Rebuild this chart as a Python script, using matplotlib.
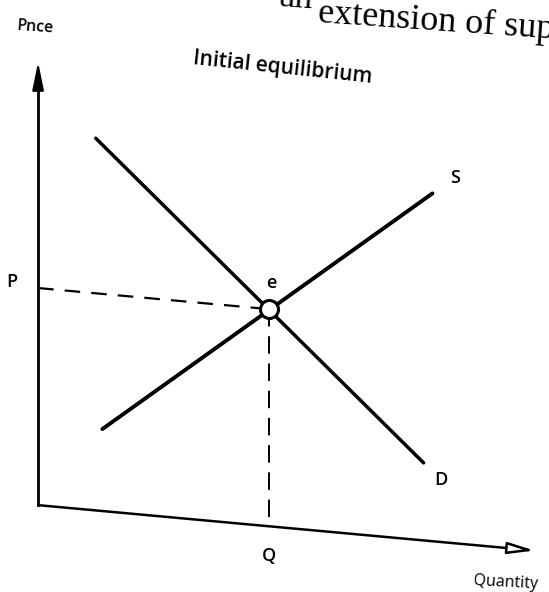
import numpy as np
import matplotlib.pyplot as plt
from matplotlib.transforms import Affine2D

# curve end points and equilibrium (quantity, price units)
demand_q = [13.0, 87.0]
demand_p = [84.0, 17.5]
supply_q = [14.5, 89.0]
supply_p = [18.5, 78.5]
eq_q = 52.0
eq_p = 49.0
q_max = 111.0
p_max = 100.0

plt.rcParams['font.family'] = ['Open Sans', 'DejaVu Sans']

fig = plt.figure(figsize=(5.49, 5.92), dpi=100)
ax = fig.add_axes([0, 0, 1, 1])
ax.set_xlim(-8.6, 115.3)
ax.set_ylim(-19.6, 114.0)
ax.axis('off')

# the page was scanned a little crooked: shear the drawing so the x axis tilts down
ox, oy = ax.transData.transform((0, 0))
shear = Affine2D().translate(-ox, -oy).skew(0, np.arctan(-0.0915)).translate(ox, oy)
tr = ax.transData + shear

# axes
ax.plot([0, 0], [0, p_max - 4], color='k', lw=2.0, transform=tr, clip_on=False)
ax.annotate('', xy=(0, p_max), xytext=(0, p_max - 6), xycoords=tr, textcoords=tr,
            arrowprops=dict(arrowstyle='-|>,head_length=1.7,head_width=0.35',
                            color='k', lw=1.5, shrinkA=0, shrinkB=0))
ax.annotate('', xy=(q_max + 1, 0), xytext=(0, 0), xycoords=tr, textcoords=tr,
            arrowprops=dict(arrowstyle='-|>,head_length=1.6,head_width=0.35',
                            fc='white', ec='k', lw=1.8, shrinkA=0, shrinkB=0))

# demand and supply
ax.plot(demand_q, demand_p, color='k', lw=2.5, transform=tr, solid_capstyle='round')
ax.plot(supply_q, supply_p, color='k', lw=2.8, transform=tr, solid_capstyle='round')

# guide lines to P and Q
ax.plot([0, eq_q], [eq_p, eq_p], color='k', lw=1.6, dashes=(7, 5), transform=tr)
ax.plot([eq_q, eq_q], [eq_p, 0], color='k', lw=1.4, dashes=(9, 5), transform=tr)

# equilibrium point
ax.plot(eq_q, eq_p, 'o', ms=13, mfc='white', mec='k', mew=2.2, transform=tr, zorder=5)

lab = dict(fontsize=13, fontweight='semibold', color='k', ha='center', va='center',
           transform=tr)
ax.text(-5.9, eq_p + 0.8, 'P', **lab)
ax.text(eq_q + 0.6, eq_p + 6, 'e', **lab)
ax.text(eq_q, -6.7, 'Q', **lab)
ax.text(demand_q[1] + 4, demand_p[1] - 3.4, 'D', **lab)
ax.text(supply_q[1] + 5.2, supply_p[1] + 4, 'S', **lab)
ax.text(105.5, -7.9, 'Quantity', fontsize=11.5, ha='center', va='center', transform=tr,
        rotation=-3)

fig.text(0.064, 0.954, 'Pnce', fontsize=11.5, fontweight='semibold', ha='center',
         va='center', rotation=-4)
fig.text(0.514, 0.885, 'Initial equilibrium', fontsize=15, fontweight='semibold',
         ha='center', va='center', rotation=-6)

# bit of the book text above the figure, cut off by the scan
fig.text(0.570, 0.986, 'an', family='Liberation Serif', fontsize=26, ha='right',
         va='baseline', rotation=-4, rotation_mode='anchor')
fig.text(0.579, 0.962, 'extension of supply', family='Liberation Serif', fontsize=26,
         ha='left', va='baseline', rotation=-4, rotation_mode='anchor')

fig.savefig('out.png', dpi=100)
